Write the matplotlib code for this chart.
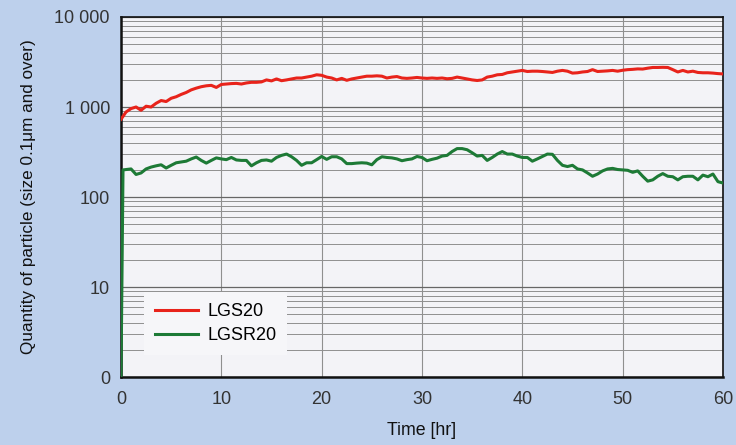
import numpy as np
import matplotlib.pyplot as plt
from matplotlib.ticker import FixedLocator, FixedFormatter, LogLocator, NullFormatter

plt.rcParams['font.family'] = ['Liberation Sans', 'DejaVu Sans']

# time axis (hours) and particle counts
t_lgs = [0, 0.5, 1, 1.5, 2, 2.5, 3, 3.5, 4, 4.5, 5, 5.5, 6, 6.5, 7, 7.5, 8, 8.5, 9, 9.5,
         10, 10.5, 11, 11.5, 12, 12.5, 13, 13.5, 14, 14.5, 15, 15.5, 16, 16.5, 17, 17.5, 18, 18.5, 19, 19.5,
         20, 20.5, 21, 21.5, 22, 22.5, 23, 23.5, 24, 24.5, 25, 25.5, 26, 26.5, 27, 27.5, 28, 28.5, 29, 29.5,
         30, 30.5, 31, 31.5, 32, 32.5, 33, 33.5, 34, 34.5, 35, 35.5, 36, 36.5, 37, 37.5, 38, 38.5, 39, 39.5,
         40, 40.5, 41, 41.5, 42, 42.5, 43, 43.5, 44, 44.5, 45, 45.5, 46, 46.5, 47, 47.5, 48, 48.5, 49, 49.5,
         50, 50.5, 51, 51.5, 52, 52.5, 53, 53.5, 54, 54.5, 55, 55.5, 56, 56.5, 57, 57.5, 58, 58.5, 59, 59.5, 60]
lgs20 = [730, 880, 960, 1000, 920, 1020, 1000, 1100, 1180, 1150, 1250, 1300, 1380, 1450, 1550, 1620, 1680, 1720, 1740, 1650,
         1780, 1800, 1820, 1830, 1800, 1850, 1880, 1880, 1900, 2000, 1950, 2050, 1960, 2000, 2050, 2100, 2100, 2150, 2200, 2280,
         2250, 2150, 2100, 2000, 2080, 1980, 2050, 2100, 2150, 2200, 2200, 2220, 2200, 2100, 2150, 2180, 2100, 2080, 2100, 2130,
         2100, 2080, 2100, 2080, 2100, 2060, 2080, 2150, 2100, 2050, 2000, 1970, 2000, 2150, 2200, 2280, 2300, 2400, 2450, 2500,
         2550, 2480, 2500, 2500, 2480, 2450, 2420, 2500, 2550, 2500, 2380, 2400, 2450, 2480, 2600, 2480, 2500, 2520, 2550, 2500,
         2560, 2600, 2620, 2650, 2640, 2700, 2750, 2750, 2760, 2750, 2600, 2450, 2550, 2450, 2500, 2420, 2400, 2400, 2380, 2350, 2330]

t_lgsr = [0, 0.2, 1, 1.5, 2, 2.5, 3, 3.5, 4, 4.5, 5, 5.5, 6, 6.5, 7, 7.5, 8, 8.5, 9, 9.5,
          10, 10.5, 11, 11.5, 12, 12.5, 13, 13.5, 14, 14.5, 15, 15.5, 16, 16.5, 17, 17.5, 18, 18.5, 19, 19.5,
          20, 20.5, 21, 21.5, 22, 22.5, 23, 23.5, 24, 24.5, 25, 25.5, 26, 26.5, 27, 27.5, 28, 28.5, 29, 29.5,
          30, 30.5, 31, 31.5, 32, 32.5, 33, 33.5, 34, 34.5, 35, 35.5, 36, 36.5, 37, 37.5, 38, 38.5, 39, 39.5,
          40, 40.5, 41, 41.5, 42, 42.5, 43, 43.5, 44, 44.5, 45, 45.5, 46, 46.5, 47, 47.5, 48, 48.5, 49, 49.5,
          50, 50.5, 51, 51.5, 52, 52.5, 53, 53.5, 54, 54.5, 55, 55.5, 56, 56.5, 57, 57.5, 58, 58.5, 59, 59.5, 60]
lgsr20 = [1, 200, 205, 178, 185, 205, 215, 222, 228, 210, 225, 240, 245, 250, 265, 278, 255, 238, 255, 272,
          265, 260, 275, 258, 255, 255, 222, 240, 255, 258, 250, 275, 290, 300, 280, 255, 225, 240, 240, 260,
          282, 262, 280, 280, 265, 235, 235, 238, 240, 238, 228, 260, 280, 275, 272, 265, 253, 260, 265, 282,
          275, 253, 262, 270, 285, 290, 320, 345, 345, 335, 310, 285, 290, 255, 275, 300, 320, 300, 300, 285,
          275, 275, 250, 265, 282, 300, 298, 255, 225, 218, 225, 205, 200, 185, 170, 180, 195, 205, 208, 202,
          200, 198, 188, 195, 170, 150, 155, 170, 182, 170, 168, 155, 168, 170, 170, 155, 175, 168, 180, 148, 143]

y_ticks = [1, 10, 100, 1000, 10000]
y_labels = ['0', '10', '100', '1 000', '10 000']
x_ticks = [0, 10, 20, 30, 40, 50, 60]

bg = '#bdd0ec'
fig = plt.figure(figsize=(7.36, 4.45), dpi=100, facecolor=bg)
ax = fig.add_axes([0.1644, 0.1528, 0.8179, 0.809])
ax.set_facecolor('#f3f3f7')

ax.plot(t_lgs, lgs20, color='#e8231b', lw=2.2, label='LGS20', zorder=3)
ax.plot(t_lgsr, lgsr20, color='#1d7a36', lw=2.2, label='LGSR20', zorder=3)

ax.set_yscale('log')
ax.set_ylim(1, 10000)
ax.set_xlim(0, 60)
ax.yaxis.set_major_locator(FixedLocator(y_ticks))
ax.yaxis.set_major_formatter(FixedFormatter(y_labels))
ax.yaxis.set_minor_locator(LogLocator(base=10, subs=np.arange(2, 10)))
ax.yaxis.set_minor_formatter(NullFormatter())
ax.set_xticks(x_ticks)

ax.grid(which='major', axis='y', color='#666666', lw=0.9)
ax.grid(which='minor', axis='y', color='#8f8f8f', lw=0.7)
ax.grid(which='major', axis='x', color='#8f8f8f', lw=0.8)
ax.tick_params(which='both', length=0, labelsize=13, colors='#333333')
ax.tick_params(axis='x', pad=10)
ax.tick_params(axis='y', pad=8)

for s in ax.spines.values():
    s.set_color('#111111')
    s.set_linewidth(1.2)
ax.spines['left'].set_linewidth(1.8)
ax.spines['bottom'].set_linewidth(1.8)

ax.set_xlabel('Time [hr]', fontsize=12.8, labelpad=10, color='#111111')
ax.set_ylabel('Quantity of particle (size 0.1\u03bcm and over)', fontsize=12.3, labelpad=13, color='#111111')

leg = ax.legend(loc='upper left', bbox_to_anchor=(0.023, 0.26), fontsize=13,
                frameon=True, fancybox=False, handlelength=2.4, handletextpad=0.5,
                borderpad=0.6, labelspacing=0.4)
leg.get_frame().set_facecolor('#f6f6f9')
leg.get_frame().set_edgecolor('none')
leg.get_frame().set_alpha(1)

fig.savefig('out.png', dpi=100, facecolor=bg)
